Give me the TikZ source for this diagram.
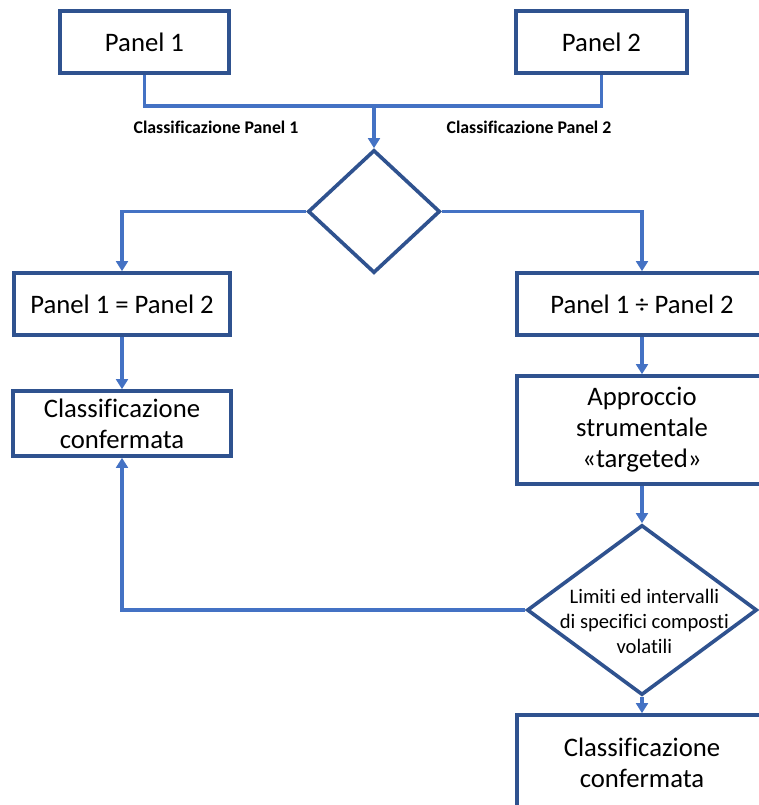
\documentclass[tikz,border=0pt]{standalone}
\usepackage{fontspec}
\setmainfont{Carlito}[Ligatures={NoCommon,NoContextual}]
\usetikzlibrary{shapes.geometric,arrows.meta}
\definecolor{bordo}{HTML}{2F528F}
\definecolor{linea}{HTML}{4472C4}

\begin{document}
\begin{tikzpicture}[x=0.03cm,y=-0.03cm,
		box/.style={draw=bordo, line width=3.1pt, fill=white, inner sep=0pt, align=center, font=\fontsize{22.8}{26.5}\selectfont},
		rombo/.style={diamond, draw=bordo, line width=3.1pt, fill=white, inner sep=0pt},
		etich/.style={font=\fontsize{15.2}{18}\selectfont\bfseries},
		conn/.style={draw=linea, line width=2.9pt},
		freccia/.style={conn, -{Triangle[width=10pt,length=8.5pt]}}]
		% Formato
		\path[use as bounding box, fill=white] (0,0) rectangle (759,805);
		\clip (0,0) rectangle (759,805);
		
		% Pannelli
		\node[box, minimum width=5.07cm, minimum height=1.86cm] (p1) at (144.5,42) {Panel 1};
		\node[box, minimum width=5.13cm, minimum height=1.86cm] (p2) at (601.5,42) {Panel 2};
		\coordinate (giunz) at (374,106);
		\node[etich] (l1) at (216,127) {Classificazione Panel 1};
		\node[etich] (l2) at (529,127) {Classificazione Panel 2};
		
		% Confronto
		\node[rombo, minimum width=3.96cm, minimum height=3.69cm] (d1) at (374,211.5) {};
		\node[box, minimum width=6.48cm, minimum height=1.86cm] (ug) at (122,304) {Panel 1 = Panel 2};
		\node[box, minimum width=7.5cm, minimum height=1.86cm] (div) at (642,304) {Panel 1 ÷ Panel 2};
		\node[box, minimum width=6.54cm, minimum height=1.95cm] (conf1) at (122,423.5) {Classificazione\\confermata};
		\node[box, minimum width=7.5cm, minimum height=3.24cm] (appr) at (642,430) {Approccio\\strumentale\\«targeted»};
		\node[rombo, minimum width=6.9cm, minimum height=5.1cm,
			label={[align=center, font=\fontsize{17.6}{21.5}\selectfont, xshift=2pt, yshift=-10pt]center:Limiti ed intervalli\\di specifici composti\\volatili}] (d2) at (642,610) {};
		\node[box, minimum width=7.5cm, minimum height=2.88cm] (conf2) at (642,763) {Classificazione\\confermata};
		
		% Frecce
		\draw[conn] (p1.south) |- (giunz);
		\draw[conn] (p2.south) |- (giunz);
		\draw[freccia] (giunz) -- (d1.north);
		\draw[freccia] (d1.west) -| (ug.north);
		\draw[freccia] (d1.east) -| (div.north);
		\draw[freccia] (ug.south) -- (conf1.north);
		\draw[freccia] (div.south) -- (appr.north);
		\draw[freccia] (appr.south) -- (d2.north);
		\draw[freccia] (d2.west) -| (conf1.south);
		\draw[freccia] (d2.south) -- (conf2.north);
	\end{tikzpicture}
\end{document}
